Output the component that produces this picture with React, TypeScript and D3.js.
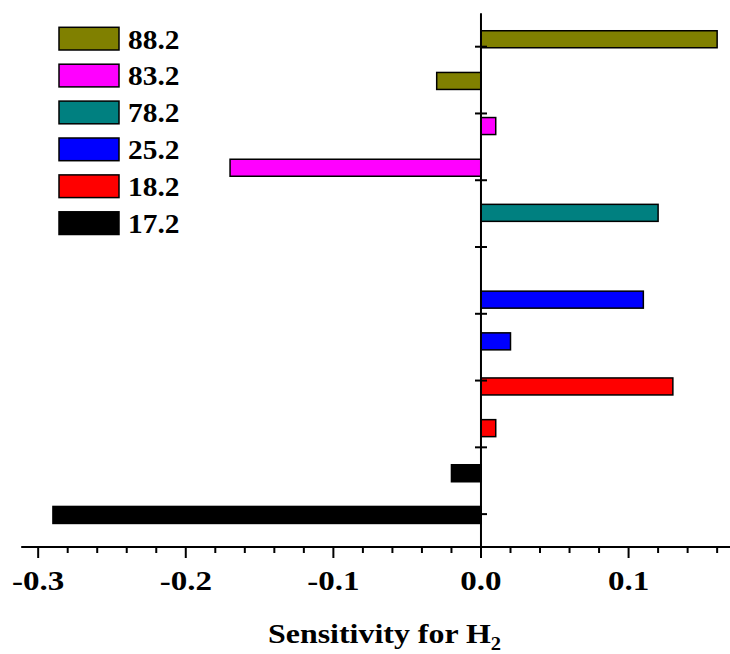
import React from "react";
import * as d3 from "d3";

const categories = ["88.2", "83.2", "78.2", "25.2", "18.2", "17.2"];
const colors = ["#808000", "#FF00FF", "#008080", "#0000FF", "#FF0000", "#000000"];
const upperValues = [0.16, 0.01, 0.12, 0.11, 0.13, -0.02];
const lowerValues = [-0.03, -0.17, 0, 0.02, 0.01, -0.29];
const majorTicks = [-0.3, -0.2, -0.1, 0.0, 0.1];
const tickLabels = ["-0.3", "-0.2", "-0.1", "0.0", "0.1"];
const minorSteps = d3.range(-15, 9); // multiples of 0.02
const yAxisTicks = [1, 2, 3, 4, 5, 6, 7, 8];

const W = 730;
const H = 654;
const FONT = "'Liberation Serif', 'Times New Roman', serif";

export default function App() {
  const x = d3.scaleLinear().domain([-0.3115, 0.17]).range([21.2, 731.9]);
  const yTick = d3.scaleLinear().domain([0.5, 8.5]).range([547.5, 13.3]);
  const axisY = 547;
  const x0 = x(0);

  const groupBand = d3.scaleBand<string>().domain(categories).range([16.7, 537.5]).padding(0);
  const sub = d3
    .scaleBand<string>()
    .domain(["upper", "lower"])
    .range([0, groupBand.bandwidth()])
    .paddingInner(0.5923)
    .paddingOuter(0.3369);

  const bars: { key: string; y: number; h: number; v: number; color: string }[] = [];
  categories.forEach((c, i) => {
    const g = groupBand(c)!;
    bars.push({ key: c + "u", y: g + sub("upper")!, h: sub.bandwidth(), v: upperValues[i], color: colors[i] });
    bars.push({ key: c + "l", y: g + sub("lower")!, h: sub.bandwidth(), v: lowerValues[i], color: colors[i] });
  });

  return (
    <svg
      width={W}
      height={H}
      style={{ position: "absolute", left: 0, top: 0, background: "#fff" }}
      fontFamily={FONT}
    >
      <rect x={0} y={0} width={W} height={H} fill="#fff" />
      {/* bars */}
      {bars
        .filter((b) => b.v !== 0)
        .map((b) => (
          <rect
            key={b.key}
            x={Math.min(x(b.v), x0)}
            y={b.y}
            width={Math.abs(x(b.v) - x0)}
            height={b.h}
            fill={b.color}
            stroke="#000"
            strokeWidth={1.5}
          />
        ))}
      {/* vertical zero line */}
      <line x1={x0} x2={x0} y1={yTick(8.5)} y2={axisY} stroke="#000" strokeWidth={2} />
      {yAxisTicks.map((t) => (
        <line key={t} x1={x0 - 6} x2={x0 + 6} y1={yTick(t)} y2={yTick(t)} stroke="#000" strokeWidth={2} />
      ))}
      {/* x axis */}
      <line x1={x.range()[0]} x2={W} y1={axisY} y2={axisY} stroke="#000" strokeWidth={2} />
      {minorSteps.map((i) => {
        const v = i * 0.02;
        const major = i % 5 === 0;
        return (
          <line
            key={i}
            x1={x(v)}
            x2={x(v)}
            y1={axisY}
            y2={axisY + (major ? 11 : 6)}
            stroke="#000"
            strokeWidth={2}
          />
        );
      })}
      {majorTicks.map((v, i) => (
        <text
          key={v}
          transform={`translate(${x(v)},590) scale(1.18,1)`}
          textAnchor="middle"
          fontSize={28}
          fontWeight="bold"
          fill="#000"
        >
          {tickLabels[i]}
        </text>
      ))}
      {/* title */}
      <text transform="translate(268,643) scale(1.14,1)" fontSize={28} fontWeight="bold" fill="#000">
        Sensitivity for H
        <tspan fontSize={18} dy={7}>
          2
        </tspan>
      </text>
      {/* legend */}
      {categories.map((c, i) => (
        <g key={c}>
          <rect
            x={59}
            y={27.3 + i * 36.9}
            width={60}
            height={22.7}
            fill={colors[i]}
            stroke="#000"
            strokeWidth={1.5}
          />
          <text
            transform={`translate(128,${48.5 + i * 36.9}) scale(1.05,1)`}
            fontSize={28}
            fontWeight="bold"
            fill="#000"
          >
            {c}
          </text>
        </g>
      ))}
    </svg>
  );
}
